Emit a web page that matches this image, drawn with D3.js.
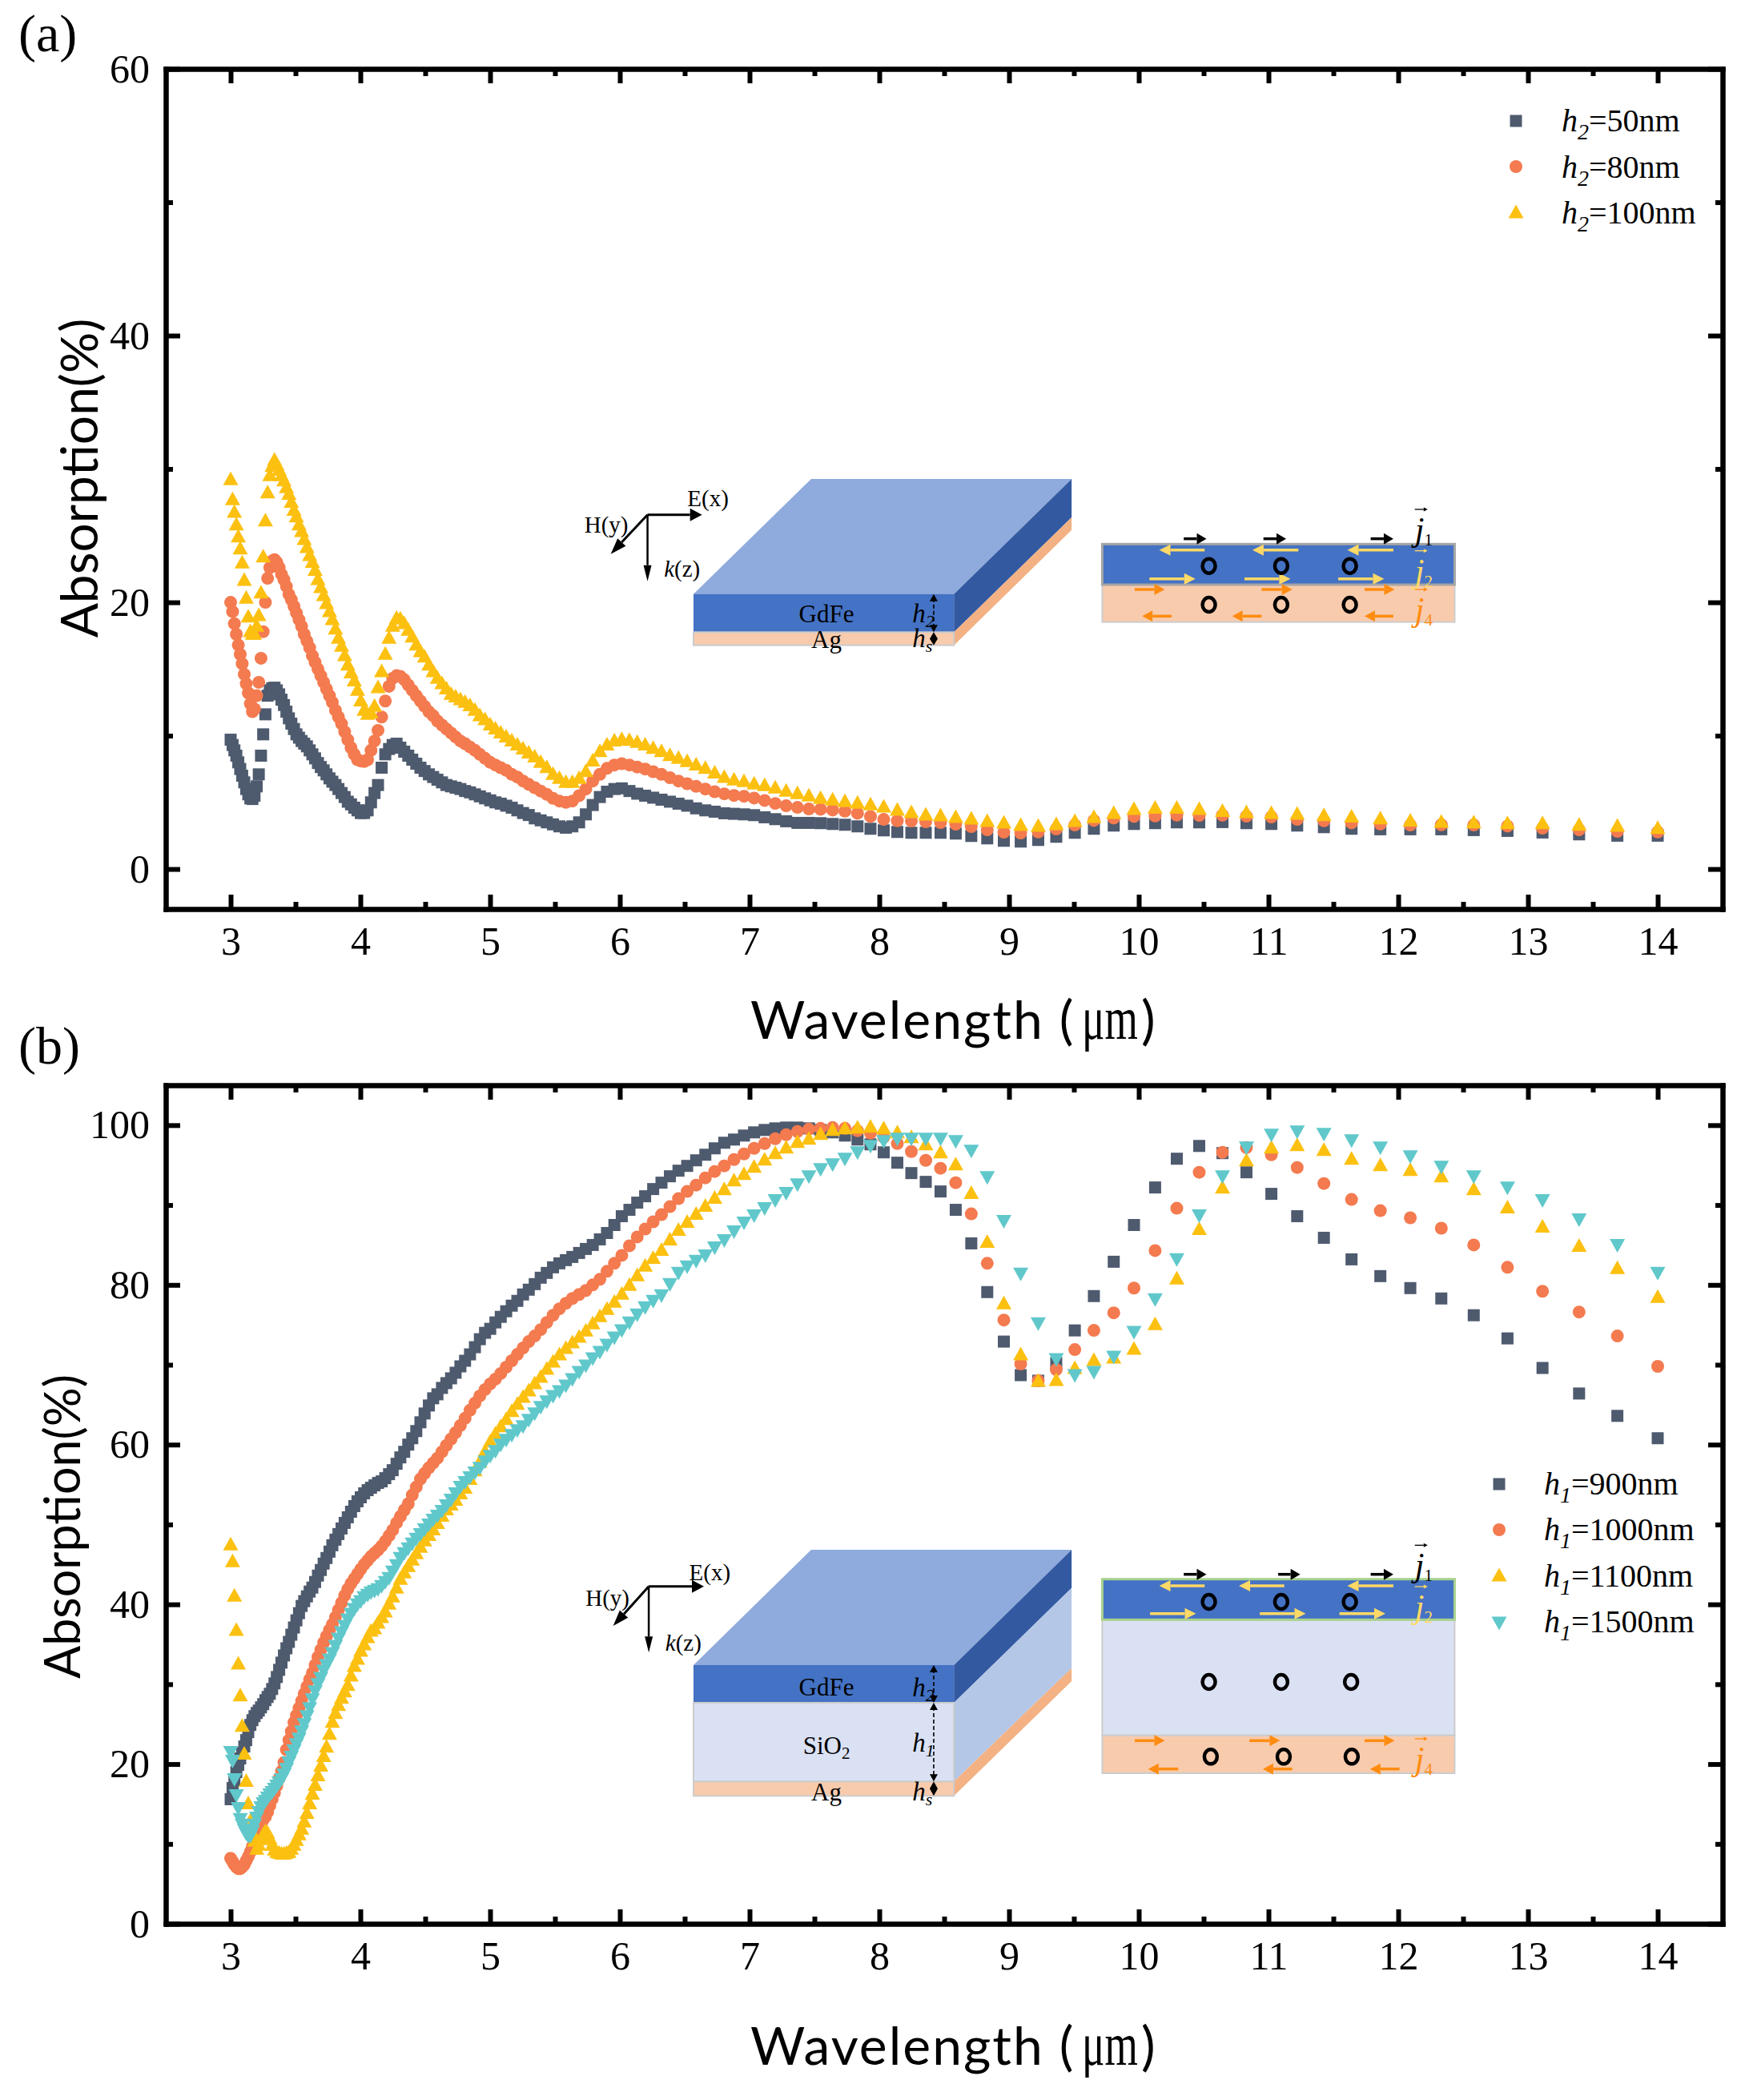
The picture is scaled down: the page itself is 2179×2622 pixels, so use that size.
<!DOCTYPE html>
<html><head><meta charset="utf-8">
<style>html,body{margin:0;padding:0;background:#fff}svg{display:block}</style>
<script src="https://cdn.jsdelivr.net/npm/d3@7/dist/d3.min.js"></script>
</head><body><svg id="chart" width="2179" height="2622" viewBox="0 0 2179 2622"></svg>
<script>
const wavelengths=[
3.000,3.015,3.029,3.044,3.059,3.074,3.089,3.105,3.120,3.136,
3.152,3.168,3.184,3.201,3.217,3.234,3.251,3.268,3.285,3.302,
3.320,3.338,3.356,3.374,3.392,3.411,3.430,3.449,3.468,3.488,
3.507,3.527,3.547,3.567,3.588,3.609,3.630,3.651,3.673,3.695,
3.717,3.739,3.762,3.784,3.808,3.831,3.855,3.879,3.903,3.928,
3.953,3.978,4.003,4.029,4.056,4.082,4.109,4.136,4.164,4.192,
4.221,4.249,4.279,4.308,4.338,4.369,4.400,4.431,4.463,4.495,
4.528,4.561,4.594,4.629,4.663,4.699,4.734,4.771,4.807,4.845,
4.883,4.921,4.961,5.001,5.041,5.082,5.124,5.167,5.210,5.254,
5.298,5.344,5.390,5.437,5.485,5.534,5.584,5.634,5.686,5.738,
5.791,5.846,5.901,5.958,6.015,6.074,6.134,6.195,6.257,6.321,
6.386,6.452,6.519,6.588,6.659,6.731,6.805,6.880,6.957,7.035,
7.116,7.198,7.282,7.369,7.457,7.547,7.640,7.735,7.832,7.932,
8.034,8.139,8.247,8.358,8.472,8.589,8.709,8.832,8.960,9.090,
9.225,9.364,9.507,9.654,9.807,9.963,10.126,10.293,10.466,10.645,
10.830,11.022,11.221,11.427,11.640,11.862,12.093,12.332,12.582,12.842,
13.112,13.394,13.689,14.000];
const absH50=[
9.7,9.3,8.9,8.5,8.0,7.5,7.0,6.5,6.0,5.6,
5.3,5.25,5.5,6.2,7.1,8.5,10.1,11.6,13.0,13.4,
13.55,13.6,13.4,13.1,12.7,12.3,11.8,11.3,10.9,10.5,
10.1,9.85,9.6,9.4,9.2,8.9,8.6,8.3,7.95,7.65,
7.4,7.1,6.8,6.55,6.3,6.0,5.7,5.4,5.05,4.85,
4.6,4.4,4.2,4.2,4.4,5.0,5.7,6.3,7.6,8.6,
9.0,9.3,9.4,9.1,8.8,8.5,8.2,7.9,7.6,7.35,
7.1,6.9,6.7,6.5,6.3,6.2,6.1,6.0,5.85,5.75,
5.6,5.45,5.3,5.15,5.0,4.9,4.75,4.6,4.4,4.2,
4.05,3.8,3.65,3.5,3.35,3.2,3.1,3.2,3.5,4.1,
4.8,5.4,5.8,6.0,6.05,5.85,5.65,5.5,5.35,5.2,
5.05,4.9,4.75,4.55,4.4,4.3,4.18,4.14,4.10,4.04,
3.88,3.74,3.58,3.46,3.46,3.44,3.38,3.32,3.20,3.02,
2.90,2.78,2.72,2.72,2.72,2.66,2.48,2.30,2.12,2.06,
2.18,2.42,2.72,3.02,3.26,3.38,3.44,3.50,3.50,3.52,
3.44,3.38,3.26,3.14,3.02,2.98,2.98,2.98,2.92,2.86,
2.74,2.60,2.50,2.50];
const absH80=[
20.0,19.3,18.4,17.6,16.8,16.1,15.4,14.6,13.9,13.2,
12.4,11.8,12.0,13.0,14.0,15.8,17.8,20.0,21.8,22.6,
23.1,23.2,23.0,22.6,22.1,21.7,21.2,20.6,20.2,19.7,
19.2,18.7,18.2,17.6,17.1,16.6,16.0,15.5,15.0,14.5,
14.0,13.5,13.0,12.5,11.9,11.4,10.9,10.3,9.7,9.1,
8.6,8.2,8.1,8.06,8.2,8.9,9.6,10.4,11.4,12.6,
13.7,14.3,14.5,14.45,14.2,13.8,13.4,13.0,12.6,12.2,
11.8,11.5,11.1,10.8,10.5,10.2,9.9,9.6,9.4,9.15,
8.9,8.6,8.3,8.0,7.8,7.6,7.4,7.1,6.9,6.6,
6.35,6.1,5.85,5.6,5.3,5.1,5.0,5.1,5.5,6.0,
6.6,7.1,7.55,7.8,7.9,7.8,7.65,7.5,7.3,7.1,
6.85,6.6,6.4,6.2,6.0,5.8,5.64,5.52,5.46,5.32,
5.14,4.92,4.74,4.62,4.50,4.48,4.42,4.34,4.18,3.94,
3.72,3.62,3.60,3.54,3.48,3.36,3.18,2.94,2.76,2.70,
2.78,3.0,3.30,3.64,3.82,3.94,3.98,4.04,4.02,4.04,
3.96,3.90,3.72,3.62,3.46,3.38,3.30,3.32,3.30,3.22,
3.06,2.94,2.82,2.78];
const absH100=[
29.3,27.8,26.85,25.9,25.0,24.1,23.05,21.75,20.4,19.0,
17.9,17.7,17.7,18.3,19.1,20.8,23.5,26.2,28.3,29.6,
30.3,30.75,30.4,30.0,29.6,29.2,28.7,28.2,27.6,27.0,
26.5,25.9,25.4,24.8,24.2,23.6,23.1,22.5,21.8,21.2,
20.6,20.0,19.4,18.8,18.1,17.4,16.8,16.1,15.4,14.8,
14.2,13.5,12.7,12.0,11.7,11.8,12.3,13.7,14.9,16.2,
17.4,18.3,18.9,18.85,18.5,18.0,17.5,16.9,16.4,16.0,
15.4,14.9,14.4,14.0,13.6,13.2,13.0,12.8,12.6,12.35,
12.0,11.6,11.3,10.9,10.6,10.3,10.0,9.7,9.4,9.1,
8.8,8.5,8.1,7.7,7.2,6.9,6.6,6.6,6.9,7.4,
8.2,8.9,9.4,9.7,9.8,9.75,9.6,9.4,9.15,8.9,
8.6,8.4,8.15,7.9,7.65,7.3,6.97,6.78,6.66,6.48,
6.36,6.18,5.94,5.76,5.58,5.40,5.28,5.16,5.04,4.92,
4.74,4.50,4.32,4.14,4.08,3.96,3.84,3.66,3.54,3.36,
3.30,3.42,3.66,3.96,4.26,4.56,4.66,4.66,4.56,4.42,
4.32,4.26,4.20,4.10,4.00,3.86,3.70,3.60,3.56,3.50,
3.50,3.38,3.30,3.14];
const absH900=[
15.6,17.0,18.0,19.0,19.9,20.7,21.4,22.2,23.0,24.0,
24.9,25.5,26.0,26.4,26.7,27.1,27.5,28.0,28.4,28.8,
29.4,30.1,30.9,31.8,32.7,33.6,34.5,35.3,36.2,37.1,
38.0,38.9,39.8,40.4,41.0,41.6,42.1,42.8,43.6,44.3,
45.1,45.8,46.6,47.4,48.1,48.8,49.5,50.2,50.9,51.6,
52.3,52.9,53.4,53.9,54.3,54.6,54.9,55.2,55.4,55.8,
56.3,56.8,57.6,58.4,59.1,60.0,60.8,61.7,62.8,63.9,
64.9,65.8,66.3,67.1,67.7,68.3,69.0,69.8,70.5,71.3,
72.2,73.2,74.0,74.5,75.3,76.0,76.7,77.4,78.0,78.8,
79.4,80.1,80.9,81.5,82.2,82.7,83.1,83.5,84.0,84.5,
85.0,85.7,86.5,87.5,88.6,89.4,90.3,91.1,92.0,92.8,
93.6,94.3,94.9,95.6,96.3,97.1,97.8,98.2,98.7,99.1,
99.4,99.6,99.7,99.7,99.6,99.4,99.1,98.7,98.2,97.6,
96.6,95.3,94.0,92.9,91.7,89.4,85.2,79.1,72.9,68.7,
68.0,70.2,74.3,78.6,82.9,87.5,92.2,95.8,97.4,96.5,
94.1,91.4,88.6,85.9,83.2,81.1,79.6,78.3,76.2,73.3,
69.6,66.4,63.6,60.8];
const absH1000=[
8.2,7.8,7.4,7.1,6.9,6.9,7.1,7.4,7.9,8.4,
9.0,9.7,10.4,11.2,11.9,12.5,13.0,13.4,14.0,14.8,
15.6,16.4,17.3,18.2,19.1,20.2,21.8,23.0,24.1,25.2,
26.1,27.0,27.9,28.8,29.7,30.6,31.4,32.4,33.4,34.3,
35.2,36.0,36.8,37.5,38.4,39.3,40.2,41.1,41.9,42.6,
43.2,43.8,44.4,45.0,45.5,46.0,46.4,46.8,47.3,47.9,
48.6,49.3,50.2,51.0,51.8,52.6,53.7,54.7,55.7,56.4,
57.1,57.7,58.3,59.1,59.9,60.7,61.5,62.4,63.3,64.3,
65.2,66.1,66.9,67.6,68.2,68.9,69.7,70.5,71.3,72.1,
72.9,73.6,74.4,75.3,76.2,77.0,77.7,78.3,78.8,79.3,
80.0,80.7,81.7,82.7,83.7,84.9,86.0,87.0,87.9,88.8,
89.8,90.8,91.7,92.5,93.4,94.2,94.9,95.7,96.4,97.1,
97.7,98.3,98.8,99.2,99.5,99.6,99.7,99.6,99.3,99.0,
98.5,97.7,96.7,95.6,94.6,92.8,88.9,82.7,75.6,70.1,
68.0,69.4,71.9,74.3,76.5,79.6,84.3,89.6,94.1,96.6,
97.2,96.3,94.7,92.7,90.7,89.3,88.4,87.1,85.0,82.2,
79.2,76.6,73.6,69.8];
const absH1100=[
47.6,45.5,41.2,36.9,32.7,28.7,24.9,21.4,18.0,15.2,
13.0,11.5,10.5,9.5,10.0,10.7,11.3,11.7,11.5,10.8,
10.0,9.4,9.1,9.0,8.9,8.9,9.0,9.1,9.5,10.0,
10.6,11.3,12.0,12.9,14.0,15.2,16.4,17.5,18.7,19.9,
21.1,22.3,23.9,25.4,26.5,27.5,28.4,29.2,30.0,31.2,
32.4,33.3,34.3,35.1,36.0,36.8,37.1,37.8,38.5,39.2,
40.2,41.1,42.2,43.3,44.1,44.9,45.7,46.5,47.3,48.1,
48.8,49.5,50.3,51.2,52.0,52.6,53.2,54.0,54.7,55.8,
56.9,58.0,59.3,60.5,61.5,62.4,63.3,64.3,65.2,66.1,
66.9,67.8,68.6,69.6,70.5,71.4,72.2,72.9,73.6,74.4,
75.3,76.2,77.1,78.0,79.0,80.1,81.3,82.5,83.5,84.5,
85.8,87.0,88.0,89.0,90.0,91.0,92.1,93.2,94.0,94.9,
95.8,96.6,97.3,98.0,98.4,99.0,99.5,99.7,99.8,99.9,
99.7,99.2,98.6,97.7,96.7,95.2,91.6,85.5,77.8,71.4,
68.1,68.2,69.7,70.7,71.0,72.1,75.2,80.9,87.1,92.3,
95.7,97.3,97.6,97.0,95.9,95.1,94.5,93.7,92.1,89.8,
87.4,85.0,82.2,78.6];
const absH1500=[
21.4,20.3,18.0,16.0,14.4,13.0,12.3,11.7,11.2,10.9,
10.9,11.5,12.3,13.2,13.9,14.5,15.0,15.3,15.7,16.1,
16.4,16.8,17.2,17.6,18.0,18.6,19.3,20.1,20.8,21.6,
22.4,23.1,24.0,24.9,25.9,26.9,28.0,29.0,29.9,30.7,
31.6,32.3,33.0,33.8,34.7,35.6,36.4,37.2,38.0,38.7,
39.3,39.9,40.3,40.8,41.1,41.4,41.6,41.8,42.2,42.7,
43.2,44.0,44.8,45.7,46.3,46.9,47.5,48.1,48.7,49.3,
49.9,50.5,51.0,51.6,52.3,53.0,53.8,54.6,55.2,55.8,
56.4,57.0,57.8,58.5,59.1,59.9,60.5,61.1,61.7,62.2,
63.0,63.8,64.6,65.3,66.0,66.6,67.3,68.1,69.0,69.8,
70.7,71.5,72.4,73.3,74.2,75.2,76.2,77.1,77.9,78.6,
80.0,81.4,82.2,82.9,83.6,84.6,85.5,86.6,87.7,88.6,
89.5,90.5,91.4,92.5,93.5,94.4,95.0,95.7,96.5,97.3,
97.9,98.2,98.2,98.2,98.2,97.9,96.7,93.4,87.9,81.3,
75.1,70.6,68.6,69.0,70.9,74.0,78.1,83.1,88.6,93.5,
97.1,98.7,99.1,98.8,98.0,97.1,96.0,94.7,93.5,92.1,
90.5,88.1,84.9,81.4];
const xMajor=[3,4,5,6,7,8,9,10,11,12,13,14];
const xMinor=[3.5,4.5,5.5,6.5,7.5,8.5,9.5,10.5,11.5,12.5,13.5];
const yMajorA=[0,20,40,60], yMinorA=[10,30,50];
const yMajorB=[0,20,40,60,80,100], yMinorB=[10,30,50,70,90];
const legendA=[["2","=50nm"],["2","=80nm"],["2","=100nm"]];
const legendB=[["1","=900nm"],["1","=1000nm"],["1","=1100nm"],["1","=1500nm"]];
const COL={sq:'#4e5a6e',ci:'#f47a4f',up:'#fcc010',dn:'#60c8cb'};

const SERIF='"Liberation Serif","Times New Roman",serif', SANS='Lato,"Open Sans",sans-serif';
const svg=d3.select('#chart');
svg.append('rect').attr('width',2179).attr('height',2622).attr('fill','#fff');

const symUp={draw(c){c.moveTo(0,-8.5);c.lineTo(9.5,8.5);c.lineTo(-9.5,8.5);c.closePath();}};
const symDn={draw(c){c.moveTo(0,8.5);c.lineTo(9.5,-8.5);c.lineTo(-9.5,-8.5);c.closePath();}};
const SYM={
  sq:d3.symbol().type(d3.symbolSquare).size(225)(),
  ci:d3.symbol().type(d3.symbolCircle).size(201)(),
  up:d3.symbol().type(symUp)(),
  dn:d3.symbol().type(symDn)()
};

function panel(o){
  const L=207,R=2151;
  const x=d3.scaleLinear().domain([2.5,14.5]).range([L,R]);
  const y=d3.scaleLinear().domain(o.yDomain).range([o.bottom,o.top]);
  const g=svg.append('g');
  o.series.forEach(s=>{
    g.append('g').selectAll('path').data(d3.zip(wavelengths,s.values)).join('path')
      .attr('d',SYM[s.sym]).attr('fill',COL[s.sym])
      .attr('transform',d=>`translate(${x(d[0])},${y(d[1])})`);
  });
  const style=a=>{a.selectAll('path.domain').attr('stroke','#000').attr('stroke-width',6).attr('stroke-linecap','square');
    a.selectAll('line').attr('stroke','#000').attr('stroke-width',6);};
  const mk=(ax,tr,major,minor,labels)=>{
    const a=g.append('g').attr('transform',tr);
    a.call(ax.tickValues(minor).tickSizeInner(-9).tickSizeOuter(0).tickFormat(''));style(a);
    const b=g.append('g').attr('transform',tr);
    b.call(ax.tickValues(major).tickSizeInner(-18).tickSizeOuter(0).tickFormat(labels?d3.format('d'):''));style(b);
    b.selectAll('text').attr('font-family',SERIF).attr('font-size',50).attr('fill','#000');
    return b;
  };
  const bx=mk(d3.axisBottom(x),`translate(0,${o.bottom})`,xMajor,xMinor,true);
  bx.selectAll('text').attr('y',57).attr('dy',null);
  mk(d3.axisTop(x),`translate(0,${o.top})`,xMajor,xMinor,false);
  const ly=mk(d3.axisLeft(y),`translate(${L},0)`,o.yMajor,o.yMinor,true);
  ly.selectAll('text').attr('x',-20).attr('dy',16);
  mk(d3.axisRight(y),`translate(${R},0)`,o.yMajor,o.yMinor,false);
  g.selectAll('.domain').attr('fill','none');

  svg.append('text').attr('x',o.tagX).attr('y',o.tagY).attr('font-family',SERIF).attr('font-size',66).text(o.tag);
  const xt=svg.append('g');
  xt.append('text').attr('x',937).attr('y',o.xTitleY).attr('font-family',SANS).attr('font-size',66)
    .attr('letter-spacing',2).text('Wavelength (');
  xt.append('text').attr('transform',`translate(1351,${o.xTitleY}) scale(0.70,1)`).attr('font-family',SERIF).attr('font-size',76).text('μm');
  xt.append('text').attr('x',1425).attr('y',o.xTitleY).attr('font-family',SANS).attr('font-size',66).text(')');
  svg.append('text').attr('transform',`translate(${o.yTitleX},${o.yTitleC}) rotate(-90)`).attr('text-anchor','middle')
    .attr('font-family',SANS).attr('font-size',o.yTitleSize).text('Absorption(%)');
  o.legend.forEach((t,i)=>{
    svg.append('path').attr('d',SYM[o.series[i].sym]).attr('fill',COL[o.series[i].sym])
      .attr('transform',`translate(${o.legSymX},${o.legY[i]})`);
    const tx=svg.append('text').attr('x',o.legTextX).attr('y',o.legBase[i]).attr('font-family',SERIF).attr('font-size',40);
    tx.append('tspan').attr('font-style','italic').text('h');
    tx.append('tspan').attr('font-style','italic').attr('font-size',28).attr('dy',10).text(t[0]);
    tx.append('tspan').attr('dy',-10).text(t[1]);
  });
}

panel({top:86,bottom:1135,yDomain:[-3,60],yMajor:yMajorA,yMinor:yMinorA,tag:'(a)',tagX:23,tagY:64,
  xTitleY:1297,yTitleX:122,yTitleC:597,yTitleSize:64,
  series:[{sym:'sq',values:absH50},{sym:'ci',values:absH80},{sym:'up',values:absH100}],
  legend:legendA,legY:[151,208,264],legBase:[164,222,279],legSymX:1893,legTextX:1950});
panel({top:1355,bottom:2402,yDomain:[0,105],yMajor:yMajorB,yMinor:yMinorB,tag:'(b)',tagX:23,tagY:1328,
  xTitleY:2578,yTitleX:100,yTitleC:1906,yTitleSize:61,
  series:[{sym:'sq',values:absH900},{sym:'ci',values:absH1000},{sym:'up',values:absH1100},{sym:'dn',values:absH1500}],
  legend:legendB,legY:[1853,1910,1966,2027],legBase:[1866,1923,1981,2038],legSymX:1872,legTextX:1928});

function arrow(g,x1,y1,x2,y2,col,w,hl,hw){
  const a=Math.atan2(y2-y1,x2-x1),c=Math.cos(a),s=Math.sin(a);
  const bx=x2-hl*c,by=y2-hl*s;
  g.append('line').attr('x1',x1).attr('y1',y1).attr('x2',bx).attr('y2',by).attr('stroke',col).attr('stroke-width',w);
  g.append('path').attr('fill',col).attr('d',`M${x2},${y2}L${bx-hw*s},${by+hw*c}L${bx+hw*s},${by-hw*c}Z`);
}
function inset(o){
  const g=svg.append('g');
  const X=p=>680+p/1.3067, Y=p=>o.y0+p/3;
  const poly=(pts,fill)=>g.append('polygon').attr('points',pts.map(p=>X(p[0])+','+Y(p[1])).join(' ')).attr('fill',fill);
  const rectP=(x0,y0,x1,y1,fill,stroke,w)=>g.append('rect').attr('x',X(x0)).attr('y',Y(y0)).attr('width',X(x1)-X(x0)).attr('height',Y(y1)-Y(y0))
    .attr('fill',fill).attr('stroke',stroke||'none').attr('stroke-width',w||0);
  const text=(px,py,t,size,anchor,italic,fill)=>g.append('text').attr('x',X(px)).attr('y',Y(py)).attr('font-family',SERIF)
    .attr('font-size',size).attr('text-anchor',anchor||'start').attr('font-style',italic?'italic':'normal').attr('fill',fill||'#000').text(t);

  const [t0,t1]=o.block;
  poly([[243,t0],[668,t0],[860,t1],[435,t1]],'#8faadc');
  o.sides.forEach(s=>poly([[668,s.a],[860,s.b],[860,s.c],[668,s.d]],s.fill));
  o.fronts.forEach(f=>rectP(243,f.a,668,f.b,f.fill,f.stroke,f.stroke?2:0));

  const a=o.axes;
  arrow(g,X(a.ox),Y(a.oy),X(a.ex),Y(a.oy),'#000',3,15,8);
  arrow(g,X(a.ox),Y(a.oy),X(a.hx),Y(a.hy),'#000',3,20,7);
  arrow(g,X(a.ox),Y(a.oy),X(a.ox),Y(a.ky),'#000',2.5,20,5);
  text(a.etx,a.ety,'E(x)',29);
  text(a.htx,a.hty,'H(y)',29);
  const kt=text(a.ktx,a.kty,'',29);
  kt.append('tspan').attr('font-style','italic').text('k');
  kt.append('tspan').text('(z)');

  o.labels.forEach(l=>{
    const t=text(460,l.y,'',31,'middle');
    t.append('tspan').text(l.t);
    if(l.sub) t.append('tspan').attr('font-size',21).attr('dy',6).text(l.sub);
  });
  o.hs.forEach(l=>{
    const t=text(600,l.y,'',33,'start',true);
    t.append('tspan').text('h');
    t.append('tspan').attr('font-size',22).attr('dy',6).text(l.sub);
  });
  o.dims.forEach(d=>{
    g.append('line').attr('x1',X(635)).attr('x2',X(635)).attr('y1',Y(d[0])+5).attr('y2',Y(d[1])-5)
      .attr('stroke','#000').attr('stroke-width',1.6).attr('stroke-dasharray','5 3');
    const hh=Math.min(9,(Y(d[1])-Y(d[0]))/2);
    g.append('path').attr('d',`M${X(635)},${Y(d[0])}l-5,${hh}l10,0Z M${X(635)},${Y(d[1])}l-5,${-hh}l10,0Z`).attr('fill','#000');
  });

  o.layers.forEach(l=>rectP(910,l.a,1485,l.b,l.fill,l.stroke,l.w));
  const arrs=(list,py,col,w,hl,hw)=>list.forEach(p=>arrow(g,X(p[0]),Y(py),X(p[1]),Y(py),col,w,hl,hw));
  o.flows.forEach(f=>arrs(f.x,f.y,f.col,f.w,f.hl,f.hw));
  o.rings.forEach(r=>r.x.forEach(px=>g.append('ellipse').attr('cx',X(px)).attr('cy',Y(r.y)).attr('rx',8).attr('ry',9)
    .attr('fill','none').attr('stroke','#000').attr('stroke-width',4.5)));
  o.js.forEach(j=>{
    const t=text(1420,j.y,'',42,'start',true,j.col);
    t.append('tspan').text('j');
    t.append('tspan').attr('font-size',21).attr('font-style','normal').attr('dy',6).text(j.sub);
    arrow(g,X(1420),Y(j.y)-39,X(1441),Y(j.y)-39,j.col,1.3,5,2.5);
  });
}
const yellow='#ffd966', orange='#ff8c11';
inset({y0:560,block:[545,114],
  sides:[{a:545,b:114,c:258,d:688,fill:'#335aa1'},{a:688,b:258,c:305,d:737,fill:'#f4b183'}],
  fronts:[{a:545,b:688,fill:'#4472c4'},{a:688,b:737,fill:'#f8cbad',stroke:'#cccccc'}],
  axes:{ox:168,oy:248,ex:257,hx:108,hy:395,ky:497,etx:233,ety:215,htx:65,hty:315,ktx:195,kty:480},
  labels:[{t:'GdFe',y:650},{t:'Ag',y:748}],
  hs:[{sub:'2',y:650},{sub:'s',y:745}],
  dims:[[545,688],[688,737]],
  layers:[{a:510,b:650,fill:'#f8cbad',stroke:'#cccccc',w:2},{a:358,b:510,fill:'#4472c4',stroke:'#a5a5a5',w:3}],
  flows:[
    {x:[[1043,1080],[1173,1210],[1348,1385]],y:338,col:'#000',w:3.5,hl:12,hw:7},
    {x:[[1077,1003],[1230,1155],[1385,1310]],y:380,col:yellow,w:3.5,hl:14,hw:7},
    {x:[[987,1062],[1142,1217],[1295,1370]],y:488,col:yellow,w:3.5,hl:14,hw:7},
    {x:[[963,1012],[1170,1220],[1338,1387]],y:528,col:orange,w:3.5,hl:13,hw:7},
    {x:[[1023,975],[1170,1122],[1385,1338]],y:628,col:orange,w:3.5,hl:13,hw:7}],
  rings:[{x:[1084,1202,1314],y:440},{x:[1084,1202,1314],y:585}],
  js:[{sub:'1',y:345,col:'#000'},{sub:'2',y:500,col:yellow},{sub:'4',y:645,col:orange}]
});
inset({y0:1900,block:[537,105],
  sides:[{a:537,b:105,c:248,d:678,fill:'#335aa1'},{a:678,b:248,c:548,d:973,fill:'#b4c7e7'},{a:973,b:548,c:597,d:1027,fill:'#f4b183'}],
  fronts:[{a:537,b:678,fill:'#4472c4'},{a:678,b:973,fill:'#dae1f3',stroke:'#cccccc'},{a:973,b:1027,fill:'#f8cbad',stroke:'#cccccc'}],
  axes:{ox:170,oy:242,ex:260,hx:112,hy:390,ky:490,etx:236,ety:218,htx:67,hty:315,ktx:197,kty:482},
  labels:[{t:'GdFe',y:650},{t:'SiO',sub:'2',y:870},{t:'Ag',y:1045}],
  hs:[{sub:'2',y:655},{sub:'1',y:860},{sub:'s',y:1045}],
  dims:[[537,678],[678,973],[973,1027]],
  layers:[{a:800,b:942,fill:'#f8cbad',stroke:'#cccccc',w:2},{a:367,b:800,fill:'#dae1f3',stroke:'#cccccc',w:2},{a:215,b:367,fill:'#4472c4',stroke:'#a9d18e',w:3}],
  flows:[
    {x:[[1043,1080],[1197,1233],[1348,1385]],y:197,col:'#000',w:3.5,hl:12,hw:7},
    {x:[[1077,1003],[1207,1133],[1385,1310]],y:240,col:yellow,w:3.5,hl:14,hw:7},
    {x:[[988,1063],[1167,1242],[1297,1372]],y:344,col:yellow,w:3.5,hl:14,hw:7},
    {x:[[963,1012],[1150,1200],[1338,1387]],y:820,col:orange,w:3.5,hl:13,hw:7},
    {x:[[1034,985],[1220,1172],[1395,1347]],y:926,col:orange,w:3.5,hl:13,hw:7}],
  rings:[{x:[1084,1202,1314],y:300},{x:[1084,1202,1316],y:600},{x:[1087,1206,1317],y:880}],
  js:[{sub:'1',y:205,col:'#000'},{sub:'2',y:360,col:yellow},{sub:'4',y:930,col:orange}]
});
</script></body></html>
